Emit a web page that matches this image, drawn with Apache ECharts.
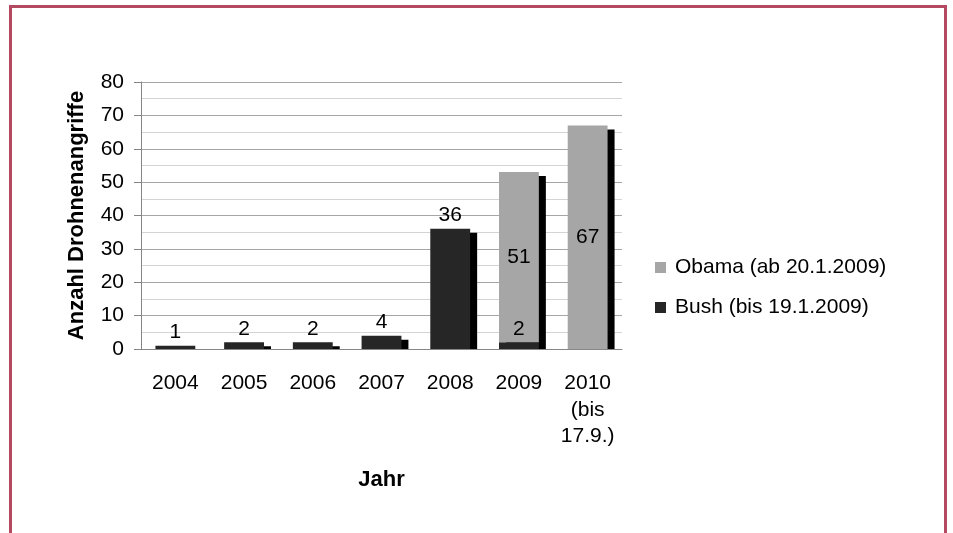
<!DOCTYPE html>
<html>
<head>
<meta charset="utf-8">
<script src="https://cdn.jsdelivr.net/npm/echarts@6/dist/echarts.min.js"></script>
<style>
html, body { margin: 0; padding: 0; background: #fff; }
#frame { position: absolute; left: 9px; top: 5px; width: 932px; height: 560px; border: 3px solid #b34a62; border-bottom: none; }
#chart { position: absolute; left: 0; top: 0; width: 953px; height: 533px; }
</style>
</head>
<body>
<div id="frame"></div>
<div id="chart"></div>
<script>
var years = ['2004', '2005', '2006', '2007', '2008', '2009', '2010\n(bis\n17.9.)'];
var bush = [1, 2, 2, 4, 36, 2, null];
var obama = [null, null, null, null, null, 51, 67];
var yTicks = { min: 0, max: 80, interval: 10 };

// stacked totals, used for the offset shadow behind each bar
var totals = years.map(function(y, i) {
	return [i, (bush[i] || 0) + (obama[i] || 0)];
});

var chart = echarts.init(document.getElementById('chart'));
var font = 'Liberation Sans, Arial, sans-serif';
var barW = 0.58;

var option = {
	animation: false,
	textStyle: { fontFamily: font, color: '#000' },
	grid: { left: 141, right: 331, top: 82, bottom: 184 },
	legend: {
		orient: 'vertical',
		left: 650,
		top: 252,
		itemWidth: 11,
		itemHeight: 11,
		itemGap: 19,
		icon: 'rect',
		data: ['Obama (ab 20.1.2009)', 'Bush (bis 19.1.2009)'],
		textStyle: { fontSize: 21, color: '#000', padding: [0, 0, 0, 4] }
	},
	xAxis: {
		type: 'category',
		data: years,
		name: 'Jahr',
		nameLocation: 'middle',
		nameGap: 120,
		nameTextStyle: { fontSize: 22, fontWeight: 'bold', color: '#000' },
		axisLine: { lineStyle: { color: '#868686' } },
		axisTick: { show: false },
		axisLabel: { interval: 0, hideOverlap: false, fontSize: 21, color: '#000', margin: 21, lineHeight: 26.5 }
	},
	yAxis: {
		type: 'value',
		min: yTicks.min,
		max: yTicks.max,
		interval: yTicks.interval,
		name: 'Anzahl Drohnenangriffe',
		nameLocation: 'middle',
		nameGap: 53,
		nameTextStyle: { fontSize: 22, fontWeight: 'bold', color: '#000' },
		axisLine: { show: true, lineStyle: { color: '#868686' } },
		axisTick: { show: true, length: 7, lineStyle: { color: '#868686' } },
		axisLabel: { fontSize: 21, color: '#000', margin: 17 },
		splitLine: { lineStyle: { color: '#a6a6a6' } },
		minorTick: { show: false, splitNumber: 2 },
		minorSplitLine: { show: true, lineStyle: { color: '#d4d4d4' } }
	},
	series: [
		{
			name: 'shadow',
			type: 'custom',
			silent: true,
			z: 1,
			encode: { x: 0, y: 1 },
			data: totals,
			renderItem: function(params, api) {
				var top = api.coord([api.value(0), api.value(1)]);
				var base = api.coord([api.value(0), 0]);
				var w = api.size([1, 0])[0] * barW;
				var h = base[1] - top[1] - 4;
				if (h <= 0) return;
				return {
					type: 'rect',
					shape: { x: top[0] - w / 2 + 7, y: top[1] + 4, width: w, height: h },
					style: { fill: '#000' }
				};
			}
		},
		{
			name: 'Bush (bis 19.1.2009)',
			type: 'bar',
			stack: 'total',
			barWidth: (barW * 100) + '%',
			z: 2,
			data: bush,
			itemStyle: { color: '#262626' },
			label: { show: true, position: 'top', distance: 3, fontSize: 21, color: '#000' }
		},
		{
			name: 'Obama (ab 20.1.2009)',
			type: 'bar',
			stack: 'total',
			barWidth: (barW * 100) + '%',
			z: 2,
			data: obama,
			itemStyle: { color: '#a6a6a6' },
			label: { show: true, position: 'inside', fontSize: 21, color: '#000' }
		}
	]
};
chart.setOption(option);
</script>
</body>
</html>
